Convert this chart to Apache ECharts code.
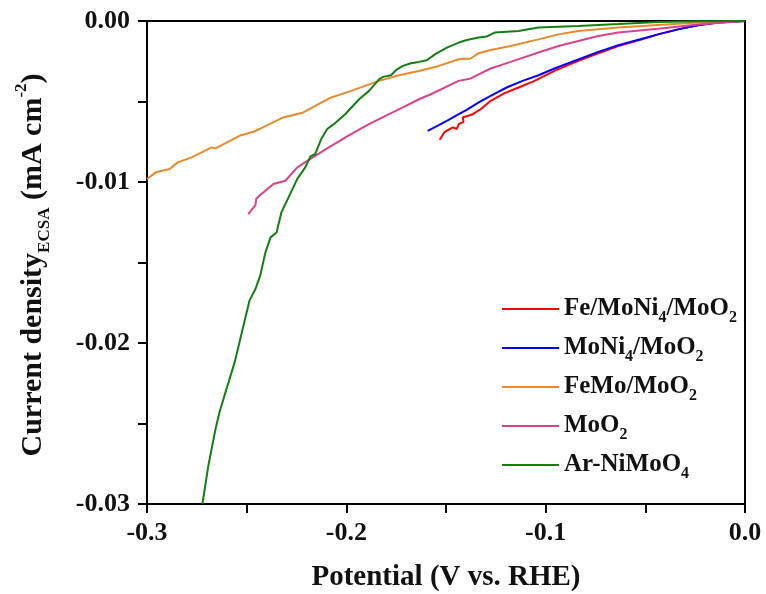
<!DOCTYPE html>
<html>
<head>
<meta charset="utf-8">
<script src="https://cdn.jsdelivr.net/npm/echarts@6/dist/echarts.min.js"></script>
<style>
html, body { margin: 0; padding: 0; background: #fff; }
#chart { width: 766px; height: 594px; }
</style>
</head>
<body>
<div id="chart"></div>
<script>
// data: [potential (V), current density]
var feMoNi4MoO2 = [[-0.1532,-0.00738],[-0.1506,-0.00688],[-0.1466,-0.00661],[-0.1446,-0.00671],[-0.1436,-0.0064],
    [-0.1412,-0.00626],[-0.1416,-0.00599],[-0.1366,-0.00579],[-0.1326,-0.00548],[-0.1276,-0.00496],[-0.1206,-0.00448],
    [-0.1136,-0.00413],[-0.1056,-0.00372],[-0.0956,-0.0031],[-0.0836,-0.00248],[-0.0736,-0.002],[-0.0636,-0.00155],
    [-0.0516,-0.00114],[-0.0436,-0.00083],[-0.0336,-0.00052],[-0.0236,-0.00027],[-0.0136,-0.0001],[0,0]];
var moNi4MoO2 = [[-0.1592,-0.00682],[-0.1536,-0.00647],[-0.1496,-0.0062],[-0.1436,-0.00579],[-0.1396,-0.00552],
    [-0.1336,-0.00506],[-0.1276,-0.00465],[-0.1196,-0.00413],[-0.1116,-0.00372],[-0.1036,-0.00337],[-0.0956,-0.00295],
    [-0.0836,-0.00238],[-0.0736,-0.00192],[-0.0636,-0.00151],[-0.0516,-0.0011],[-0.0436,-0.00083],[-0.0336,-0.00052],
    [-0.0236,-0.00027],[-0.0136,-0.0001],[0,0]];
var feMoMoO2 = [[-0.3,-0.00981],[-0.2956,-0.0094],[-0.2886,-0.00919],[-0.2846,-0.00878],[-0.2776,-0.00847],
    [-0.2676,-0.00785],[-0.2656,-0.00791],[-0.2536,-0.00713],[-0.2466,-0.00688],[-0.2436,-0.00671],[-0.2316,-0.00599],
    [-0.2216,-0.00568],[-0.2156,-0.00527],[-0.2076,-0.00475],[-0.1976,-0.00434],[-0.1836,-0.00372],[-0.1736,-0.00337],
    [-0.1636,-0.0031],[-0.1536,-0.00279],[-0.1436,-0.00238],[-0.1376,-0.00233],[-0.1336,-0.002],[-0.1276,-0.0018],
    [-0.1176,-0.00155],[-0.1036,-0.00114],[-0.0936,-0.00083],[-0.0836,-0.00062],[-0.0636,-0.00041],[-0.0436,-0.00025],
    [-0.0236,-0.0001],[0,0]];
var moO2 = [[-0.2492,-0.012],[-0.2456,-0.01144],[-0.2452,-0.01105],[-0.2436,-0.01085],[-0.2366,-0.01012],
    [-0.2306,-0.00992],[-0.2246,-0.00909],[-0.2176,-0.00853],[-0.2096,-0.00791],[-0.1996,-0.00717],[-0.1916,-0.00661],
    [-0.1886,-0.0064],[-0.1796,-0.00585],[-0.1716,-0.00537],[-0.1636,-0.00486],[-0.1576,-0.00455],[-0.1496,-0.00407],
    [-0.1436,-0.00372],[-0.1376,-0.00357],[-0.1276,-0.00295],[-0.1176,-0.00254],[-0.1036,-0.00196],[-0.0936,-0.00155],
    [-0.0836,-0.00124],[-0.0736,-0.00093],[-0.0636,-0.00072],[-0.0436,-0.00048],[-0.0236,-0.00021],[0,0]];
var arNiMoO4 = [[-0.2722,-0.0300],[-0.2692,-0.0276],[-0.2656,-0.02533],[-0.2636,-0.02429],[-0.2606,-0.02305],
    [-0.256,-0.02119],[-0.2536,-0.01995],[-0.2512,-0.01871],[-0.2486,-0.01737],[-0.2456,-0.01665],[-0.2432,-0.01582],
    [-0.2406,-0.01437],[-0.238,-0.01344],[-0.235,-0.01313],[-0.2326,-0.01189],[-0.2294,-0.01106],[-0.2246,-0.00981],
    [-0.2206,-0.00909],[-0.218,-0.00841],[-0.2156,-0.00826],[-0.2126,-0.00733],[-0.2096,-0.00671],[-0.2056,-0.00634],
    [-0.2006,-0.00579],[-0.1936,-0.00486],[-0.1886,-0.00434],[-0.1836,-0.00362],[-0.1816,-0.00347],[-0.1776,-0.00337],
    [-0.1746,-0.003],[-0.1716,-0.00279],[-0.1676,-0.00262],[-0.1636,-0.00254],[-0.1596,-0.00244],[-0.1556,-0.00207],
    [-0.1496,-0.00165],[-0.1436,-0.00134],[-0.1396,-0.00118],[-0.1336,-0.00103],[-0.1296,-0.00097],[-0.1256,-0.00072],
    [-0.1216,-0.00068],[-0.1136,-0.00062],[-0.1036,-0.00041],[-0.0836,-0.00031],[-0.0636,-0.00019],[-0.0436,-0.00006],
    [-0.0236,-0.00002],[0,0]];

var seriesNames = ['Fe/MoNi4/MoO2', 'MoNi4/MoO2', 'FeMo/MoO2', 'MoO2', 'Ar-NiMoO4'];
var seriesData = [feMoNi4MoO2, moNi4MoO2, feMoMoO2, moO2, arNiMoO4];
var seriesColors = ['#ff0000', '#0000ff', '#e8892c', '#d9428a', '#118011'];
// legend text with subscripts
var legendRich = {
    'Fe/MoNi4/MoO2': 'Fe/MoNi{s|4}/MoO{s|2}',
    'MoNi4/MoO2': 'MoNi{s|4}/MoO{s|2}',
    'FeMo/MoO2': 'FeMo/MoO{s|2}',
    'MoO2': 'MoO{s|2}',
    'Ar-NiMoO4': 'Ar-NiMoO{s|4}'
};

var font = 'Liberation Serif';
var chart = echarts.init(document.getElementById('chart'));

// only label whole steps, minor ticks get empty labels
function stepLabel(step, digits) {
    return function (v) {
        var n = v / step;
        if (Math.abs(n - Math.round(n)) > 1e-6) return '';
        return v.toFixed(digits);
    };
}

var series = [];
for (var i = 0; i < seriesNames.length; i++) {
    series.push({
        name: seriesNames[i],
        type: 'line',
        data: seriesData[i],
        showSymbol: false,
        symbol: 'none',
        lineStyle: { color: seriesColors[i], width: 2 },
        itemStyle: { color: seriesColors[i] },
        clip: true
    });
}

var option = {
    animation: false,
    backgroundColor: '#ffffff',
    grid: {
        left: 147, right: 21, top: 21, bottom: 90,
        show: true, borderColor: '#000', borderWidth: 2,
        outerBoundsMode: 'none'
    },
    legend: {
        orient: 'vertical',
        left: 497,
        top: 287,
        icon: 'rect',
        itemWidth: 57,
        itemHeight: 2,
        itemGap: 5,
        data: seriesNames,
        formatter: function (name) { return legendRich[name]; },
        textStyle: {
            fontFamily: font, fontWeight: 'bold', fontSize: 25, color: '#111',
            lineHeight: 34,
            rich: {
                s: { fontFamily: font, fontWeight: 'bold', fontSize: 16, lineHeight: 16, verticalAlign: 'bottom', color: '#111' }
            }
        }
    },
    xAxis: {
        type: 'value',
        min: -0.3, max: 0, interval: 0.05,
        axisLine: { onZero: false, lineStyle: { color: '#000', width: 2 } },
        axisTick: { inside: false, length: 9, lineStyle: { color: '#000', width: 2 } },
        splitLine: { show: false },
        axisLabel: {
            margin: 16, fontFamily: font, fontWeight: 'bold', fontSize: 26, color: '#111',
            formatter: stepLabel(0.1, 1)
        }
    },
    yAxis: {
        type: 'value',
        min: -0.03, max: 0, interval: 0.005,
        axisLine: { onZero: false, lineStyle: { color: '#000', width: 2 } },
        axisTick: { inside: false, length: 9, lineStyle: { color: '#000', width: 2 } },
        splitLine: { show: false },
        axisLabel: {
            margin: 17, fontFamily: font, fontWeight: 'bold', fontSize: 26, color: '#111',
            formatter: stepLabel(0.01, 2)
        }
    },
    graphic: [
        {
            type: 'text',
            x: 446, y: 578,
            style: {
                text: 'Potential (V vs. RHE)',
                fontFamily: font, fontWeight: 'bold', fontSize: 29, fill: '#111',
                align: 'center', verticalAlign: 'middle'
            }
        },
        {
            type: 'text',
            x: 33, y: 265,
            rotation: Math.PI / 2,
            style: {
                text: 'Current density{sub|ECSA} (mA cm{sup|-2})',
                fontFamily: font, fontWeight: 'bold', fontSize: 30, fill: '#111',
                lineHeight: 40,
                align: 'center', verticalAlign: 'middle',
                rich: {
                    sub: { fontFamily: font, fontWeight: 'bold', fontSize: 17, lineHeight: 17, verticalAlign: 'bottom', fill: '#111' },
                    sup: { fontFamily: font, fontWeight: 'bold', fontSize: 17, lineHeight: 17, verticalAlign: 'top', fill: '#111' }
                }
            }
        }
    ],
    series: series
};
chart.setOption(option);
</script>
</body>
</html>
